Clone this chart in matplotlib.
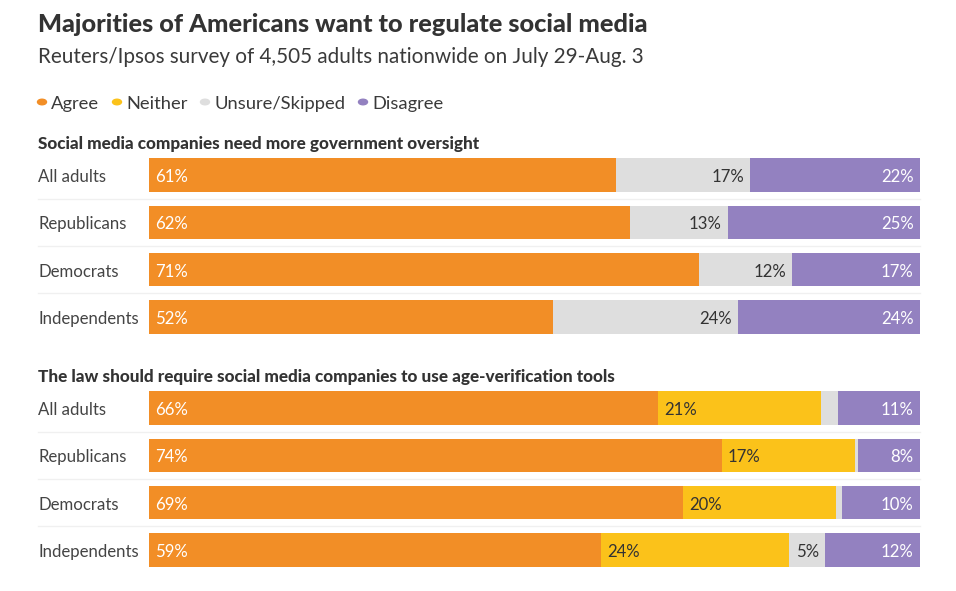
import matplotlib
matplotlib.use("Agg")
import matplotlib.pyplot as plt
from matplotlib.transforms import blended_transform_factory
from matplotlib.lines import Line2D
from matplotlib.patches import Circle

W, H = 956, 591
DPI = 100

title = "Majorities of Americans want to regulate social media"
subtitle = "Reuters/Ipsos survey of 4,505 adults nationwide on July 29-Aug. 3"
series = ["Agree", "Neither", "Unsure/Skipped", "Disagree"]
colors = ["#F28E26", "#FBC21A", "#DEDEDE", "#9381C0"]
groups = ["All adults", "Republicans", "Democrats", "Independents"]

q1_title = "Social media companies need more government oversight"
q1_agree = [60.6, 62.4, 71.3, 52.4]
q1_neither = [0, 0, 0, 0]
q1_unsure = [17.4, 12.7, 12.1, 24.0]
q1_disagree = [22.0, 24.9, 16.6, 23.6]

q2_title = "The law should require social media companies to use age-verification tools"
q2_agree = [66.0, 74.3, 69.3, 58.6]
q2_neither = [21.1, 17.3, 19.8, 24.4]
q2_unsure = [2.3, 0.4, 0.8, 4.7]
q2_disagree = [10.6, 8.0, 10.1, 12.3]

FONT = "Lato"
fig = plt.figure(figsize=(W / DPI, H / DPI), dpi=DPI)
fig.patch.set_facecolor("white")

def fx(px):
    return px / W

def fy(py):
    return 1 - py / H

fig.text(fx(38), fy(24), title, fontsize=18.3, fontweight="black", family=FONT,
         color="#333333", va="center", ha="left")
fig.text(fx(38), fy(57), subtitle, fontsize=14.9, family=FONT,
         color="#3a3a3a", va="center", ha="left")

# legend
leg_dot = [42, 117, 205, 363]
for name, col, lx in zip(series, colors, leg_dot):
    fig.patches.append(Circle((fx(lx), fy(102)), radius=4.5 / W, color=col,
                              transform=fig.transFigure, figure=fig))
    fig.text(fx(lx + 9), fy(104), name, fontsize=13.2, family=FONT,
             color="#3a3a3a", va="center", ha="left")

spacing = 47.3
bar_left, bar_right = 149, 920
LBL = 12.1
dy = 0.045  # small downward nudge of text within rows (data units)

def panel(header, header_y, first_center, agree, neither, unsure, disagree):
    top = first_center - spacing / 2
    bottom = top + spacing * 4
    ax = fig.add_axes([fx(bar_left), fy(bottom), fx(bar_right - bar_left),
                       (bottom - top) / H])
    ax.set_xlim(0, 100)
    ax.set_ylim(3.5, -0.5)
    ax.axis("off")
    fig.text(fx(38), fy(header_y), header, fontsize=12.3, fontweight="black",
             family=FONT, color="#333333", va="center", ha="left")
    ypos = list(range(len(groups)))
    left = [0] * len(groups)
    data = [agree, neither, unsure, disagree]
    for vals, col in zip(data, colors):
        ax.barh(ypos, vals, left=left, height=0.71, color=col, linewidth=0)
        left = [l + v for l, v in zip(left, vals)]
    bt = blended_transform_factory(fig.transFigure, ax.transData)
    for i, g in enumerate(groups):
        ax.text(fx(38), i + dy, g, transform=bt, fontsize=LBL, family=FONT,
                color="#444444", va="center", ha="left")
        if i < len(groups) - 1:
            ax.add_line(Line2D([fx(38), fx(bar_right)], [i + 0.5, i + 0.5],
                               transform=bt, color="#F0F0F0", linewidth=1,
                               clip_on=False))
    off = 0.8
    for i in range(len(groups)):
        a, n, u, d = agree[i], neither[i], unsure[i], disagree[i]
        y = i + dy
        ax.text(off, y, f"{a:.0f}%", fontsize=LBL, family=FONT,
                color="white", va="center", ha="left")
        if n > 0:
            ax.text(a + off, y, f"{n:.0f}%", fontsize=LBL, family=FONT,
                    color="#333333", va="center", ha="left")
        if u >= 4:
            ax.text(a + n + u - off, y, f"{u:.0f}%", fontsize=LBL, family=FONT,
                    color="#333333", va="center", ha="right")
        ax.text(100 - off, y, f"{d:.0f}%", fontsize=LBL, family=FONT,
                color="white", va="center", ha="right")

panel(q1_title, 144, 175, q1_agree, q1_neither, q1_unsure, q1_disagree)
panel(q2_title, 377, 408, q2_agree, q2_neither, q2_unsure, q2_disagree)

fig.savefig("out.png", dpi=DPI, facecolor="white")
